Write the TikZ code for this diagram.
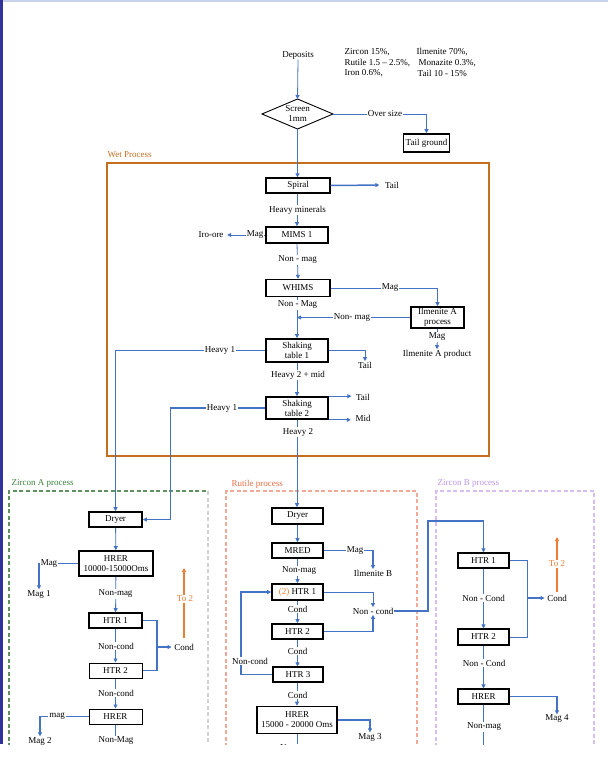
\documentclass[tikz,border=0pt]{standalone}
\usepackage{fontspec}
\setmainfont{Liberation Serif}
\usetikzlibrary{arrows.meta}
\definecolor{flow}{RGB}{68,114,196}
\definecolor{wetc}{RGB}{197,110,30}
\definecolor{zac}{RGB}{96,146,96}
\definecolor{zat}{RGB}{60,130,60}
\definecolor{rtc}{RGB}{242,170,150}
\definecolor{rtt}{RGB}{232,110,70}
\definecolor{zbc}{RGB}{215,190,240}
\definecolor{zbt}{RGB}{190,150,230}
\definecolor{toc}{RGB}{237,125,49}
\definecolor{topbar}{RGB}{200,210,235}
\definecolor{leftbar}{RGB}{50,50,155}
\begin{document}
\begin{tikzpicture}[x=1pt,y=-1pt,
  every node/.style={font=\fontsize{9}{10}\selectfont, inner sep=0.5pt},
  tb/.style={draw=black, line width=1.6pt, minimum height=15pt, align=center, fill=white},
  tn/.style={draw=black, line width=1pt, minimum height=15pt, align=center, fill=white},
  lbl/.style={fill=white, inner sep=1pt},
  fl/.style={draw=flow, line width=0.8pt},
  fk/.style={draw=flow, line width=1.5pt},
  arr/.style={-{Triangle[length=4pt,width=4pt]}},
  zadash/.style={draw=zac, line width=1.1pt, dash pattern=on 4pt off 2.5pt},
]
\useasboundingbox (0,0) rectangle (608,776);
\fill[white] (0,0) rectangle (608,776);
\begin{scope}
\clip (0,0) rectangle (608,744);
\fill[topbar] (0,0) rectangle (608,2);
\fill[leftbar] (0,0) rectangle (2.5,744);

% ---------- top ----------
\node (dep) at (298,55) {Deposits};
\node[anchor=west] at (344,52.5) {Zircon 15\%,};
\node[anchor=west] at (416,52.5) {Ilmenite 70\%,};
\node[anchor=west] at (344,63) {Rutile 1.5 – 2.5\%,};
\node[anchor=west] at (418,63) {Monazite 0.3\%,};
\node[anchor=west] at (344,73.5) {Iron 0.6\%,};
\node[anchor=west] at (417,73.5) {Tail 10 - 15\%};

\coordinate (scr) at (297.5,114);
\coordinate (scrN) at (297.5,99);
\coordinate (scrS) at (297.5,129);
\coordinate (scrE) at (333,114);
\coordinate (scrW) at (262,114);
\draw[line width=0.9pt, fill=white] (scrN) -- (scrE) -- (scrS) -- (scrW) -- cycle;
\node[align=center] (scrt) at (scr) {Screen\\1mm};
\node[tb, minimum width=46pt, minimum height=18pt] (tg) at (426.5,143) {Tail ground};

% ---------- wet process ----------
\draw[wetc, line width=1.5pt] (107,163) rectangle (489,456);
\node[wetc, anchor=west] at (107,155) {Wet Process};

\node[tn, line width=1.2pt, minimum width=64pt] (sp) at (298,185.5) {Spiral};
\node (t1) at (392,185) {Tail};
\node[tb, minimum width=62pt, minimum height=16pt] (mims) at (297,235) {MIMS 1};
\node (iro) at (211,235) {Iro-ore};
\node[tn, line width=1.2pt, minimum width=64pt, minimum height=17pt] (wh) at (298,288) {WHIMS};
\node[tb, minimum width=53pt, minimum height=21pt] (ila) at (437.5,317.5) {Ilmenite A\\process};
\node (ilap) at (437,354) {Ilmenite A product};
\node[tb, minimum width=62pt, minimum height=23pt] (st1) at (297,350.5) {Shaking\\table 1};
\node (t2) at (365,365) {Tail};
\node[tb, minimum width=62pt, minimum height=22pt] (st2) at (297,408) {Shaking\\table 2};
\node (t3) at (363,397) {Tail};
\node (mid) at (363,418) {Mid};

% ---------- process boxes ----------
\draw[zadash] (9,760) -- (9,491) -- (208,491);
\draw[draw=black!18, line width=1.3pt, dash pattern=on 4pt off 2.5pt] (208,491) -- (208,760);
\node[zat, anchor=west] at (11,483) {Zircon A process};
\draw[draw=rtc, line width=1.3pt, dash pattern=on 4pt off 2.5pt] (226,760) -- (226,491) -- (417,491) -- (417,760);
\node[rtt, anchor=west] at (231,484) {Rutile process};
\draw[draw=zbc, line width=1.3pt, dash pattern=on 4pt off 2.5pt] (436,760) -- (436,491) -- (594,491) -- (594,760);
\node[zbt, anchor=west] at (437,483) {Zircon B process};

% ---------- Zircon A ----------
\node[tb, minimum width=53pt, minimum height=15pt] (dryA) at (115.5,519.5) {Dryer};
\node[tb, minimum width=74pt, minimum height=25pt] (hrerA) at (116,563.5) {HRER\\10000-15000Oms};
\node (mag1) at (39,594) {Mag 1};
\node[tb, minimum width=53pt] (htr1A) at (115.5,620.5) {HTR 1};
\node[tn, minimum width=53pt] (htr2A) at (115.5,670.5) {HTR 2};
\node (condA) at (184,647) {Cond};
\node[tn, minimum width=53pt] (hrer2A) at (115.5,716.5) {HRER};
\node (mag2) at (40,741) {Mag 2};

% ---------- Rutile ----------
\node[tb, minimum width=51pt, minimum height=16pt] (dryR) at (297.5,516) {Dryer};
\node[tb, minimum width=51pt] (mred) at (297.5,550.5) {MRED};
\node (ilb) at (373,573) {Ilmenite B};
\node[tb, minimum width=51pt, minimum height=16pt] (htr1R) at (297.5,592) {{\color{toc}(2)} HTR 1};
\node[tb, minimum width=51pt] (htr2R) at (297.5,631.5) {HTR 2};
\node[tn, line width=1.2pt, minimum width=50pt] (htr3R) at (298,674.5) {HTR 3};
\node (ncR) at (373,611) {Non - cond};
\node[tb, minimum width=80pt, minimum height=27pt] (hrerR) at (297,720) {HRER\\15000 - 20000 Oms};
\node (mag3) at (370,737) {Mag 3};

% ---------- Zircon B ----------
\node[tn, line width=1.2pt, minimum width=51pt] (htr1B) at (483.5,560.5) {HTR 1};
\node[tn, line width=1.2pt, minimum width=51pt, minimum height=16pt] (htr2B) at (483.5,637) {HTR 2};
\node (condB) at (557,598) {Cond};
\node[tn, line width=1.2pt, minimum width=51pt] (hrerB) at (483.5,696.5) {HRER};
\node (mag4) at (557,719) {Mag 4};

% ---------- connectors ----------
\draw[fl,arr] (dep.south) -- (scrN);
\draw[fl,arr] (scrE) -| (tg.north);
\draw[fl,arr] (scrS) -- (sp.north -| scrS);
\draw[fk,arr,shorten >=5pt] (sp.east) -- (t1.west);
\draw[fl,arr] (sp.south -| mims.north) -- (mims.north);
\draw[fl,arr,shorten >=3pt] (mims.west) -- (iro.east);
\draw[fl,arr] (mims.south) -- (wh.south |- wh.north);
\draw[fl,arr] (wh.east) -| (ila.north);
\draw[fl,arr] (wh.south -| st1.north) -- (st1.north);
\draw[fl,arr] (ila.west) -- (297,317.5);
\draw[fl,arr] (ila.south) -- (ilap.north);
\draw[fk,arr] (st1.west) -| (dryA.north);
\draw[fl,arr] (st1.east) -| (t2.north);
\draw[fl,arr] (st1.south) -- (st2.north);
\draw[fl,arr,shorten >=4pt] (st2.north east) -- (t3.west |- st2.north east);
\draw[fl,arr,shorten >=4pt] (st2.south east) -- (mid.west |- st2.south east);
\draw[fk,arr] (st2.west) -- (170.5,408) |- (dryA.east);
\draw[fl,arr] (st2.south) -- (st2.south |- dryR.north);

% Zircon A
\draw[fl,arr] (dryA) -- (hrerA);
\draw[fk,arr] (hrerA.west) -| (mag1.north);
\draw[fl,arr] (hrerA) -- (htr1A);
\draw[fl,arr] (htr1A) -- (htr2A);
\draw[fk] (htr1A.east) -- (157,620.5) |- (htr2A.east);
\draw[fk,arr,shorten >=2pt] (157,647) -- (condA.west);
\draw[toc, line width=1.1pt, arr] (184,638) -- (184,568);
\draw[fl,arr] (htr2A) -- (hrer2A);
\draw[fk,arr] (hrer2A.west) -| (mag2.north);
\draw[fl] (hrer2A.south) -- (115.5,760);

% Rutile
\draw[fl,arr] (dryR) -- (mred);
\draw[fk,arr] (mred.east) -| (ilb.north);
\draw[fl,arr] (mred) -- (htr1R);
\draw[fl,arr] (htr1R) -- (htr2R);
\draw[fl,arr] (htr2R.south) -- (htr2R.south |- htr3R.north);
\draw[fl,arr] (htr1R.east) -| (ncR.north);
\draw[fk,arr] (htr2R.east) -| (ncR.south);
\draw[fk,arr] (htr3R.west) -- (241,674.5) |- (htr1R.west);
\draw[fk,arr] (ncR.east) -- (428,611) -- (428,521) -| (htr1B.north);
\draw[fl,arr] (htr3R.south -| hrerR.north) -- (hrerR.north);
\draw[fk,arr] (hrerR.east) -| (mag3.north);
\draw[fl] (hrerR.south) -- (297,760);

% Zircon B
\draw[fl,arr] (htr1B) -- (htr2B);
\draw[fl] (htr1B.east) -- (527,560.5) |- (htr2B.east);
\draw[fk,arr,shorten >=2pt] (527,598) -- (condB.west);
\draw[toc, line width=1.1pt, arr] (557,592) -- (557,537);
\draw[fl,arr] (htr2B) -- (hrerB);
\draw[fk,arr] (hrerB.east) -| (mag4.north);
\draw[fl] (hrerB.south) -- (483.5,760);

% ---------- labels on lines ----------
\node[lbl] at (385,114) {Over size};
\node[lbl] at (297.5,210) {Heavy minerals};
\node[lbl] at (255,235) {Mag};
\node[lbl] at (297.5,260) {Non - mag};
\node[lbl] at (390,288) {Mag};
\node[lbl] at (297.5,305) {Non - Mag};
\node[lbl] at (352,317.5) {Non- mag};
\node[lbl] at (437,337) {Mag};
\node[lbl] at (220,350.5) {Heavy 1};
\node[lbl] at (298,375) {Heavy 2 + mid};
\node[lbl] at (222,408) {Heavy 1};
\node[lbl] at (298,432) {Heavy 2};

\node[lbl] at (49,563.5) {Mag};
\node[lbl] at (115.5,594) {Non-mag};
\node[lbl] at (116,646) {Non-cond};
\node[lbl, text=toc] at (185,599) {To 2};
\node[lbl] at (116,693) {Non-cond};
\node[lbl] at (57,716.5) {mag};
\node[lbl] at (116,741) {Non-Mag};

\node[lbl] at (355,550.5) {Mag};
\node[lbl] at (299,571) {Non-mag};
\node[lbl] at (297.5,609) {Cond};
\node[lbl] at (297.5,651) {Cond};
\node[lbl] at (250,661) {Non-cond};
\node[lbl] at (297.5,695) {Cond};
\node[lbl] at (297,749) {Non-mag};

\node[lbl] at (483.5,598) {Non - Cond};
\node[lbl, text=toc] at (557,564) {To 2};
\node[lbl] at (484,663) {Non - Cond};
\node[lbl] at (484,727) {Non-mag};
\end{scope}
\end{tikzpicture}
\end{document}
